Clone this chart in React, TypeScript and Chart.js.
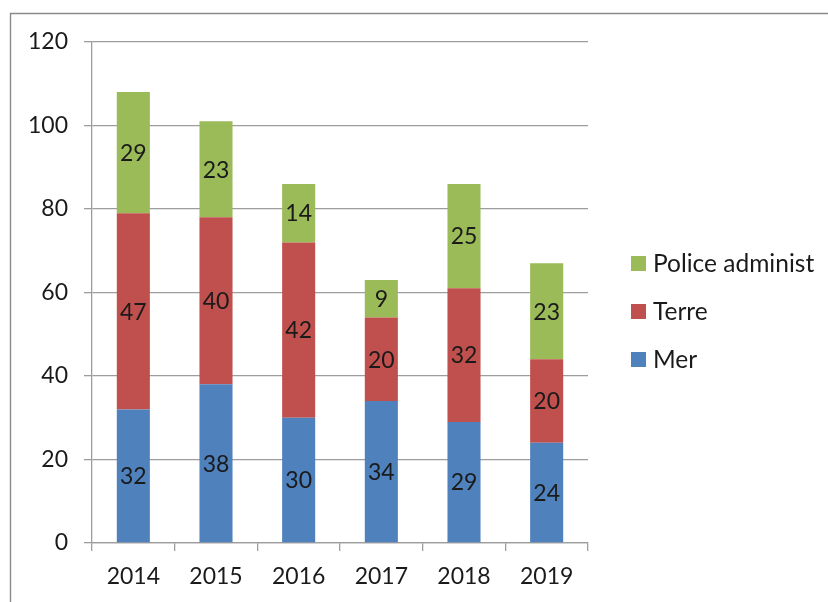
import React, { useEffect, useRef } from "react";
import { Chart, registerables } from "chart.js";

Chart.register(...registerables);

const years = ["2014", "2015", "2016", "2017", "2018", "2019"];
const mer = [32, 38, 30, 34, 29, 24];
const terre = [47, 40, 42, 20, 32, 20];
const police = [29, 23, 14, 9, 25, 23];
const seriesNames = ["Mer", "Terre", "Police administ"];
const seriesColors = ["#4F81BD", "#C0504D", "#9BBB59"];
const yMin = 0;
const yMax = 120;
const yStep = 20;

const FONT = "Lato";
const FS = 23;
const LEGEND_FS = 24.5;
const TEXT = "#1a1a1a";
const GRID = "#9d9d9d";

const framePlugin = {
  id: "frame",
  beforeDraw(chart: any) {
    const ctx = chart.ctx;
    ctx.save();
    ctx.fillStyle = "#ffffff";
    ctx.fillRect(0, 0, chart.width, chart.height);
    ctx.strokeStyle = "#8a8a8a";
    ctx.lineWidth = 1.4;
    ctx.beginPath();
    ctx.moveTo(10.5, chart.height + 5);
    ctx.lineTo(10.5, 13.5);
    ctx.lineTo(chart.width + 5, 13.5);
    ctx.stroke();
    ctx.restore();
  },
};

const valueLabelPlugin = {
  id: "valueLabels",
  afterDatasetsDraw(chart: any) {
    const ctx = chart.ctx;
    ctx.save();
    ctx.font = `${FS}px ${FONT}`;
    ctx.fillStyle = TEXT;
    ctx.textAlign = "center";
    ctx.textBaseline = "alphabetic";
    chart.data.datasets.forEach((ds: any, di: number) => {
      const meta = chart.getDatasetMeta(di);
      meta.data.forEach((el: any, i: number) => {
        const cy = (el.y + el.base) / 2;
        ctx.fillText(String(ds.data[i]), el.x, cy + FS * 0.717 / 2);
      });
    });
    ctx.restore();
  },
};

const legendPlugin = {
  id: "sideLegend",
  afterDraw(chart: any) {
    const ctx = chart.ctx;
    const area = chart.chartArea;
    const x = area.right + 43;
    const firstY = 263.5;
    const gap = 48;
    const box = 15;
    ctx.save();
    ctx.font = `${LEGEND_FS}px ${FONT}`;
    ctx.textAlign = "left";
    ctx.textBaseline = "alphabetic";
    const items = chart.data.datasets.map((d: any) => d).reverse();
    items.forEach((ds: any, k: number) => {
      const cy = firstY + k * gap;
      ctx.fillStyle = ds.backgroundColor;
      ctx.fillRect(x, cy - box / 2, box, box);
      ctx.fillStyle = TEXT;
      ctx.fillText(ds.label, x + box + 7, cy + LEGEND_FS * 0.717 / 2);
    });
    ctx.restore();
  },
};

export default function App() {
  const ref = useRef<HTMLCanvasElement | null>(null);

  useEffect(() => {
    if (!ref.current) return;
    const seriesData = [mer, terre, police];
    const chart = new Chart(ref.current, {
      type: "bar",
      data: {
        labels: years,
        datasets: seriesNames.map((name, i) => ({
          label: name,
          data: seriesData[i],
          backgroundColor: seriesColors[i],
          borderWidth: 0,
          categoryPercentage: 1,
          barPercentage: 0.4,
        })),
      },
      options: {
        animation: false,
        responsive: false,
        maintainAspectRatio: false,
        events: [],
        layout: { padding: { left: 0, top: 42, right: 240, bottom: 0 } },
        plugins: {
          legend: { display: false },
          tooltip: { enabled: false },
          title: { display: false },
        },
        scales: {
          x: {
            stacked: true,
            offset: true,
            grid: {
              display: true,
              offset: true,
              drawOnChartArea: false,
              drawTicks: true,
              tickLength: 8,
              color: GRID,
              lineWidth: 1.3,
            },
            border: { display: true, color: GRID, width: 1.3 },
            ticks: {
              font: { family: FONT, size: FS },
              color: TEXT,
              padding: 12,
              maxRotation: 0,
            },
            afterFit(scale: any) {
              scale.height = 59;
              scale.paddingLeft = 0;
              scale.paddingRight = 0;
            },
          },
          y: {
            stacked: true,
            min: yMin,
            max: yMax,
            grid: {
              color: GRID,
              lineWidth: 1.3,
              drawTicks: true,
              tickLength: 8,
            },
            border: { display: true, color: GRID, width: 1.3 },
            ticks: {
              stepSize: yStep,
              font: { family: FONT, size: FS },
              color: TEXT,
              padding: 16,
            },
            afterFit(scale: any) {
              scale.width = 92;
              scale.paddingTop = 0;
              scale.paddingBottom = 0;
            },
          },
        },
      },
      plugins: [framePlugin, valueLabelPlugin, legendPlugin],
    });
    return () => chart.destroy();
  }, []);

  return (
    <div style={{ position: "fixed", left: 0, top: 0, width: 828, height: 602, background: "#fff" }}>
      <canvas ref={ref} width={828} height={602} style={{ display: "block", width: 828, height: 602 }} />
    </div>
  );
}
